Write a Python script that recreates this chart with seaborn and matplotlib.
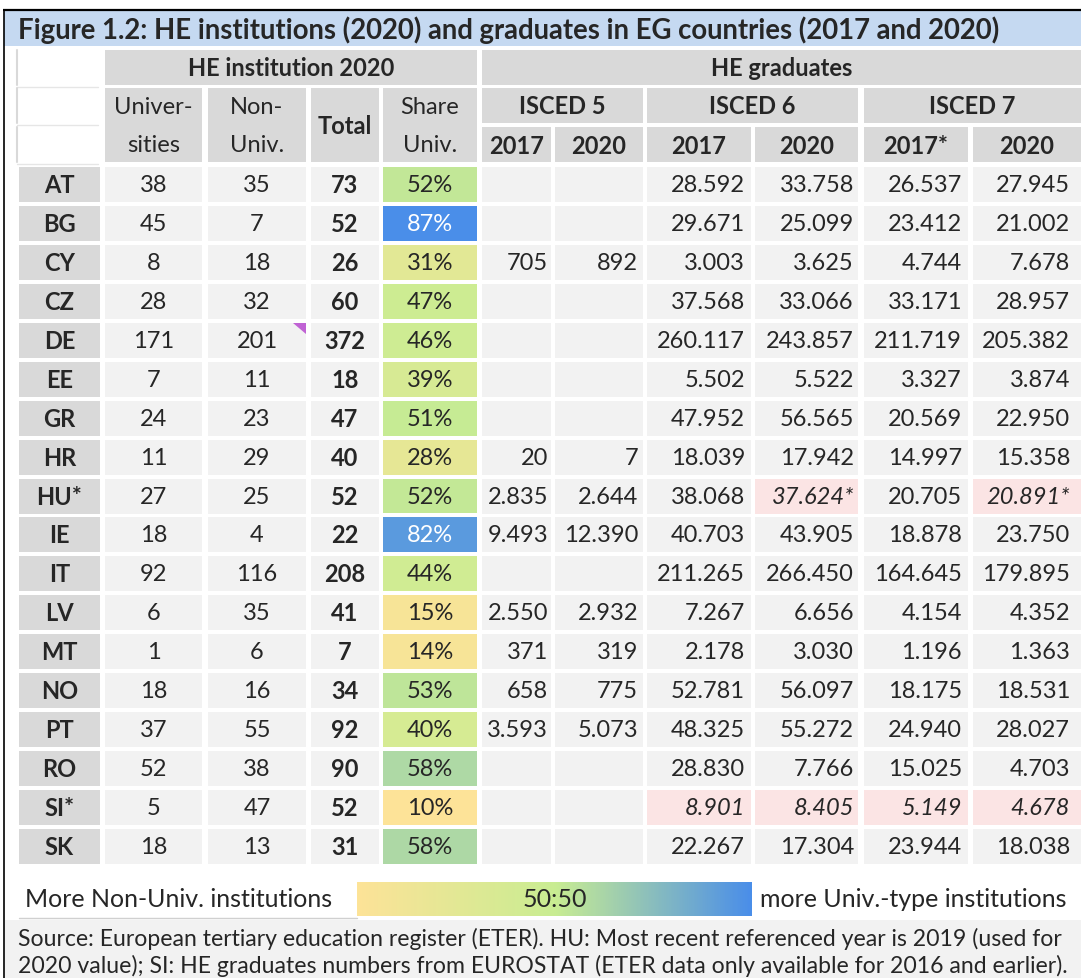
"""
Table figure: HE institutions (2020) and graduates in EG countries.
"""

import matplotlib

matplotlib.use("Agg")
import matplotlib.pyplot as plt
import numpy as np
import pandas as pd
import seaborn as sns
from matplotlib.colors import LinearSegmentedColormap
from matplotlib.patches import Polygon, Rectangle

# ---- data -------------------------------------------------------------
countries = ["AT", "BG", "CY", "CZ", "DE", "EE", "GR", "HR", "HU*", "IE",
             "IT", "LV", "MT", "NO", "PT", "RO", "SI*", "SK"]
universities = [38, 45, 8, 28, 171, 7, 24, 11, 27, 18, 92, 6, 1, 18, 37, 52, 5, 18]
non_univ = [35, 7, 18, 32, 201, 11, 23, 29, 25, 4, 116, 35, 6, 16, 55, 38, 47, 13]

isced5_2017 = [None, None, 705, None, None, None, None, 20, 2835, 9493,
               None, 2550, 371, 658, 3593, None, None, None]
isced5_2020 = [None, None, 892, None, None, None, None, 7, 2644, 12390,
               None, 2932, 319, 775, 5073, None, None, None]
isced6_2017 = [28592, 29671, 3003, 37568, 260117, 5502, 47952, 18039, 38068, 40703,
               211265, 7267, 2178, 52781, 48325, 28830, 8901, 22267]
isced6_2020 = [33758, 25099, 3625, 33066, 243857, 5522, 56565, 17942, 37624, 43905,
               266450, 6656, 3030, 56097, 55272, 7766, 8405, 17304]
isced7_2017 = [26537, 23412, 4744, 33171, 211719, 3327, 20569, 14997, 20705, 18878,
               164645, 4154, 1196, 18175, 24940, 15025, 5149, 23944]
isced7_2020 = [27945, 21002, 7678, 28957, 205382, 3874, 22950, 15358, 20891, 23750,
               179895, 4352, 1363, 18531, 28027, 4703, 4678, 18038]

# (row, graduate column) cells taken from other sources -> pink, italic
flagged_cells = [(8, 3), (8, 5), (16, 2), (16, 3), (16, 4), (16, 5)]
starred_cells = [(8, 3), (8, 5)]
comment_cell = (4, 2)  # DE / Non-Univ. has a cell comment marker

title = "Figure 1.2: HE institutions (2020) and graduates in EG countries (2017 and 2020)"
inst_header = "HE institution 2020"
grad_header = "HE graduates"
isced_levels = ["ISCED 5", "ISCED 6", "ISCED 7"]
grad_years = ["2017", "2020", "2017", "2020", "2017*", "2020"]
legend_left = "More Non-Univ. institutions"
legend_mid = "50:50"
legend_right = "more Univ.-type institutions"
source_lines = [
    "Source: European tertiary education register (ETER). HU: Most recent referenced year is 2019 (used for",
    "2020 value); SI: HE graduates numbers from EUROSTAT (ETER data only available for 2016 and earlier).",
]

totals = [u + n for u, n in zip(universities, non_univ)]
share = [u / t for u, t in zip(universities, totals)]
graduates = [isced5_2017, isced5_2020, isced6_2017, isced6_2020, isced7_2017, isced7_2020]

# ---- layout (pixels) --------------------------------------------------
W, H = 1081, 979
FONT = "Lato"
FS = 17
cols = [(19, 100), (105, 202), (208, 306), (311, 379), (383, 477), (482, 551),
        (555, 643), (647, 751), (755, 858), (864, 968), (973, 1081)]
grad_pad = [3, 5, 6, 4, 6, 11]
ROW0, PITCH, CELL_H = 168, 38.94, 35
HDR_GREY, CELL_GREY, PINK = "#d9d9d9", "#f2f2f2", "#fbe4e4"

sns.set_theme(style="white")
plt.rcParams["font.family"] = [FONT, "DejaVu Sans"]

fig = plt.figure(figsize=(W / 100, H / 100), dpi=100)
ax = fig.add_axes([0, 0, 1, 1])
ax.set_xlim(0, W)
ax.set_ylim(H, 0)
ax.axis("off")


def cell(x0, x1, y0, y1, color):
    ax.add_patch(Rectangle((x0, y0), x1 - x0, y1 - y0, facecolor=color, edgecolor="none"))


# frame + title bar
ax.plot([3, W], [10.5, 10.5], color="black", lw=1.6, solid_capstyle="butt")
ax.plot([3.5, 3.5], [10, H], color="black", lw=1.2, solid_capstyle="butt")
cell(4, W, 12, 47, "#c5d9f1")
ax.text(18, 30, title, fontsize=19.8, fontweight="bold", va="center", ha="left")

# header rows
cell(cols[1][0], cols[4][1], 51, 86, HDR_GREY)
ax.text((cols[1][0] + cols[4][1]) / 2, 68.5, inst_header, fontsize=FS,
        fontweight="bold", ha="center", va="center")
cell(cols[5][0], W, 51, 86, HDR_GREY)
ax.text((cols[5][0] + W) / 2, 68.5, grad_header, fontsize=FS,
        fontweight="bold", ha="center", va="center")

sub_headers = [("Univer-", "sities"), ("Non-", "Univ."), None, ("Share", "Univ.")]
for k, sub in enumerate(sub_headers):
    x0, x1 = cols[k + 1]
    cell(x0, x1, 89, 163, HDR_GREY)
    xc = (x0 + x1) / 2
    if sub is None:
        ax.text(xc, 127, "Total", fontsize=FS, fontweight="bold", ha="center", va="center")
    else:
        ax.text(xc, 107.5, sub[0], fontsize=FS, ha="center", va="center")
        ax.text(xc, 146, sub[1], fontsize=FS, ha="center", va="center")

for k, level in enumerate(isced_levels):
    x0 = cols[5 + 2 * k][0]
    x1 = cols[6 + 2 * k][1]
    cell(x0, x1, 89, 124, HDR_GREY)
    ax.text((x0 + x1) / 2, 107, level, fontsize=FS, fontweight="bold", ha="center", va="center")
for k, yr in enumerate(grad_years):
    x0, x1 = cols[5 + k]
    cell(x0, x1, 128, 163, HDR_GREY)
    ax.text((x0 + x1) / 2, 146, yr, fontsize=FS, fontweight="bold", ha="center", va="center")

# faint grid in the empty top-left corner
for y0, y1 in [(51, 86), (89, 124), (128, 163)]:
    ax.plot([17, 17], [y0, y1], color="#d9d9d9", lw=1.5)
    ax.plot([17, 98], [y1 + 1.5, y1 + 1.5], color="#e6e6e6", lw=1)

# body rows
for i, name in enumerate(countries):
    y0 = ROW0 + i * PITCH
    yc = y0 + CELL_H / 2
    cell(cols[0][0], cols[0][1], y0, y0 + CELL_H, HDR_GREY)
    ax.text((cols[0][0] + cols[0][1]) / 2, yc, name, fontsize=FS, fontweight="bold",
            ha="center", va="center")
    for k, (val, bold) in enumerate([(universities[i], False), (non_univ[i], False),
                                     (totals[i], True)]):
        x0, x1 = cols[k + 1]
        cell(x0, x1, y0, y0 + CELL_H, CELL_GREY)
        ax.text((x0 + x1) / 2, yc, str(val), fontsize=FS,
                fontweight="bold" if bold else "normal", ha="center", va="center")
    for k, series in enumerate(graduates):
        x0, x1 = cols[k + 5]
        flagged = (i, k) in flagged_cells
        cell(x0, x1, y0, y0 + CELL_H, PINK if flagged else CELL_GREY)
        val = series[i]
        if val is None:
            continue
        label = f"{val:,}".replace(",", ".")
        if (i, k) in starred_cells:
            label += "*"
        ax.text(x1 - grad_pad[k], yc, label, fontsize=FS, ha="right", va="center",
                fontstyle="italic" if flagged else "normal")

# comment marker (little purple triangle)
ci, ck = comment_cell
cy0 = ROW0 + ci * PITCH
cx1 = cols[ck][1]
ax.add_patch(Polygon([[cx1 - 13, cy0], [cx1, cy0], [cx1, cy0 + 11]],
                     closed=True, facecolor="#c063d4", edgecolor="none"))

# share column: seaborn heatmap with a yellow-green-blue 3-point scale
vmin, vmax = min(share), max(share)
mid = (0.5 - vmin) / (vmax - vmin)
cmap = LinearSegmentedColormap.from_list(
    "share", [(0.0, "#fde398"), (mid, "#c9ed92"), (1.0, "#4a8ee9")])
gap = PITCH - CELL_H
sx0, sx1 = cols[4][0] - gap / 2, cols[4][1] + gap / 2
sy0 = ROW0 - gap / 2
sy1 = sy0 + len(countries) * PITCH
hax = fig.add_axes([sx0 / W, 1 - sy1 / H, (sx1 - sx0) / W, (sy1 - sy0) / H])
share_df = pd.DataFrame({"Share Univ.": share}, index=countries)
sns.heatmap(share_df, ax=hax, cmap=cmap, vmin=vmin, vmax=vmax, annot=True, fmt=".0%",
            cbar=False, linewidths=gap * 72 / 100, linecolor="white",
            annot_kws={"fontsize": FS, "fontfamily": FONT})
hax.set_axis_off()

# legend strip
ly0, ly1 = 883, 917
lax = fig.add_axes([357 / W, 1 - ly1 / H, (752 - 357) / W, (ly1 - ly0) / H])
ramp = np.concatenate([np.linspace(vmin, 0.5, 200), np.linspace(0.5, vmax, 200)])[None, :]
lax.imshow(ramp, aspect="auto", cmap=cmap, vmin=vmin, vmax=vmax)
lax.set_axis_off()
lax.text(0.5, 0.5, legend_mid, fontsize=18, ha="center", va="center",
         transform=lax.transAxes)
ax.text(25, 900, legend_left, fontsize=18, ha="left", va="center")
ax.text(760, 900, legend_right, fontsize=18, ha="left", va="center")
ax.plot([19, 357], [918.5, 918.5], color="#d0d0d0", lw=1)

# source footer
cell(4.5, W, 921, H, CELL_GREY)
ax.text(18, 939, source_lines[0], fontsize=16.6, ha="left", va="center")
ax.text(18, 966, source_lines[1], fontsize=16.6, ha="left", va="center")

fig.savefig("out.png", dpi=100)
plt.close(fig)
